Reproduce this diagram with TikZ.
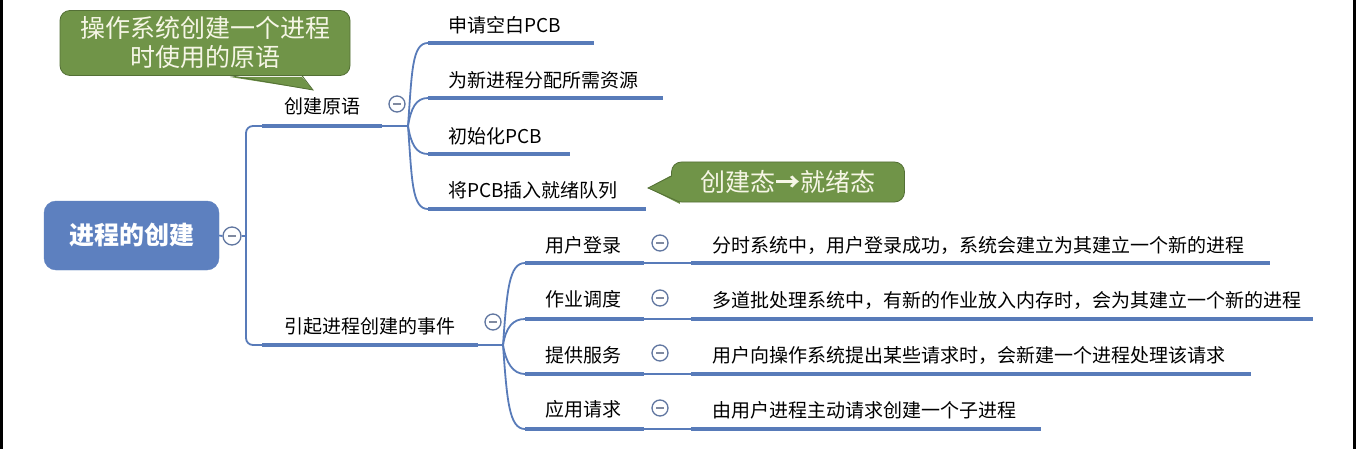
\documentclass[tikz,border=0pt]{standalone}
\usepackage{fontspec}
\setmainfont{Noto Sans CJK SC}
\definecolor{mapblue}{RGB}{88,123,185}
\definecolor{rootblue}{RGB}{93,128,191}
\definecolor{foldblue}{RGB}{96,118,160}
\definecolor{foldminus}{RGB}{128,138,160}
\definecolor{notegreen}{RGB}{112,148,72}
\definecolor{notedraw}{RGB}{84,112,54}
\definecolor{notetext}{RGB}{246,246,230}
\tikzset{
  rootbox/.style={fill=rootblue, draw=rootblue, rounded corners=12pt, minimum width=175pt, minimum height=69pt, text=white, font=\fontsize{25}{25}\selectfont\bfseries},
  topic/.style={anchor=west, inner sep=0pt, font=\fontsize{19}{22}\selectfont},
  bar/.style={line width=4pt, draw=mapblue, line cap=butt},
  link/.style={line width=1.8pt, draw=mapblue},
  fold/.style={circle, draw=foldblue, line width=1.3pt, fill=white, minimum size=16pt, inner sep=0pt,
    path picture={\draw[foldminus, line width=1.4pt] ([xshift=-4pt]path picture bounding box.center) -- ([xshift=4pt]path picture bounding box.center);}},
  note/.style={fill=notegreen, draw=notedraw, line width=0.8pt, rounded corners=10pt, text=notetext, align=center, font=\fontsize{25}{29}\selectfont},
}

\begin{document}
\begin{tikzpicture}[x=1pt, y=-1pt]
\useasboundingbox (0,0) rectangle (1356,449);
\fill[white] (0,0) rectangle (1356,449);
\fill[black] (0,0) rectangle (2.5,449);
\fill[black] (1353,0) rectangle (1356,449);

% root
\node[rootbox] (root) at (131.5,235.5) {进程的创建};
\node[fold, minimum size=18pt] (rootfold) at (232,236) {};
\coordinate (rootfork) at (246,236);
\draw[link] (root.east) -- (rootfold.west);
\draw[link] (rootfold.east) -- (rootfork);

% creation primitive
\coordinate (prim-l) at (262,126);
\coordinate (prim-r) at (382,126);
\coordinate (primfork) at (408,126);
\node[topic] (prim) at (284,106) {创建原语};
\node[fold] (primfold) at (397,104) {};
\draw[link, rounded corners=7pt] (rootfork) |- (prim-l);
\draw[bar] (prim-l) -- (prim-r);
\draw[link] (prim-r) -- (primfork);

\coordinate (step1-l) at (428,43);
\coordinate (step1-r) at (594,43);
\coordinate (step2-l) at (428,98);
\coordinate (step2-r) at (663,98);
\coordinate (step3-l) at (428,154);
\coordinate (step3-r) at (570,154);
\coordinate (step4-l) at (428,209);
\coordinate (step4-r) at (646,209);
\node[topic] (step1) at (448,25) {申请空白PCB};
\node[topic] (step2) at (448,80) {为新进程分配所需资源};
\node[topic] (step3) at (448,136) {初始化PCB};
\node[topic] (step4) at (448,190) {将PCB插入就绪队列};
\draw[link] (primfork) .. controls +(4,-55) and +(-16,0) .. (step1-l);
\draw[link] (primfork) .. controls +(3,-18) and +(-12,0) .. (step2-l);
\draw[link] (primfork) .. controls +(3,18) and +(-12,0) .. (step3-l);
\draw[link] (primfork) .. controls +(4,55) and +(-16,0) .. (step4-l);
\draw[bar] (step1-l) -- (step1-r);
\draw[bar] (step2-l) -- (step2-r);
\draw[bar] (step3-l) -- (step3-r);
\draw[bar] (step4-l) -- (step4-r);

% events
\coordinate (evt-l) at (262,345);
\coordinate (evt-r) at (478,345);
\coordinate (evtfork) at (503,345);
\node[topic] (evt) at (284,326) {引起进程创建的事件};
\node[fold] (evtfold) at (493,322) {};
\draw[link, rounded corners=7pt] (rootfork) |- (evt-l);
\draw[bar] (evt-l) -- (evt-r);
\draw[link] (evt-r) -- (evtfork);

\coordinate (login-l) at (525,263);
\coordinate (login-r) at (644,263);
\coordinate (job-l) at (525,319);
\coordinate (job-r) at (644,319);
\coordinate (serv-l) at (525,374);
\coordinate (serv-r) at (644,374);
\coordinate (req-l) at (525,429);
\coordinate (req-r) at (644,429);
\node[topic] (login) at (545,245) {用户登录};
\node[topic] (job) at (545,299) {作业调度};
\node[topic] (serv) at (545,355) {提供服务};
\node[topic] (req) at (545,409) {应用请求};
\draw[link] (evtfork) .. controls +(4,-55) and +(-16,0) .. (login-l);
\draw[link] (evtfork) .. controls +(3,-18) and +(-12,0) .. (job-l);
\draw[link] (evtfork) .. controls +(3,18) and +(-12,0) .. (serv-l);
\draw[link] (evtfork) .. controls +(4,55) and +(-16,0) .. (req-l);
\draw[bar] (login-l) -- (login-r);
\draw[bar] (job-l) -- (job-r);
\draw[bar] (serv-l) -- (serv-r);
\draw[bar] (req-l) -- (req-r);
\node[fold] (loginfold) at (660,243) {};
\node[fold] (jobfold) at (660,298) {};
\node[fold] (servfold) at (660,353) {};
\node[fold] (reqfold) at (660,408) {};

% details
\coordinate (logind-l) at (691,263);
\coordinate (logind-r) at (1270,263);
\coordinate (jobd-l) at (691,319);
\coordinate (jobd-r) at (1313,319);
\coordinate (servd-l) at (691,374);
\coordinate (servd-r) at (1251,374);
\coordinate (reqd-l) at (691,429);
\coordinate (reqd-r) at (1041,429);
\draw[link] (login-r) -- (logind-l);
\draw[link] (job-r) -- (jobd-l);
\draw[link] (serv-r) -- (servd-l);
\draw[link] (req-r) -- (reqd-l);
\draw[bar] (logind-l) -- (logind-r);
\draw[bar] (jobd-l) -- (jobd-r);
\draw[bar] (servd-l) -- (servd-r);
\draw[bar] (reqd-l) -- (reqd-r);
\node[topic] (logind) at (712,245) {分时系统中，用户登录成功，系统会建立为其建立一个新的进程};
\node[topic] (jobd) at (712,300) {多道批处理系统中，有新的作业放入内存时，会为其建立一个新的进程};
\node[topic] (servd) at (712,355) {用户向操作系统提出某些请求时，会新建一个进程处理该请求};
\node[topic] (reqd) at (712,410) {由用户进程主动请求创建一个子进程};

% callouts
\node[note, minimum width=290pt, minimum height=65pt] (noteprim) at (205,43) {操作系统创建一个进程\\时使用的原语};
\coordinate (tipprim) at (313,90);
\fill[notegreen] (230,77) -- (tipprim) -- (302,77) -- cycle;
\draw[notedraw, line width=0.8pt] (230,75.6) -- (tipprim) -- (302,75.6);

\node[note, minimum width=233pt, minimum height=40pt] (notestate) at (788,182) {创建态{\bfseries →}就绪态};
\coordinate (tipstate) at (648,188);
\fill[notegreen] (670,176) -- (tipstate) -- (680,204) -- (675,176) -- cycle;
\draw[notedraw, line width=0.8pt] (671.6,176) -- (tipstate) -- (680,202.2);
\end{tikzpicture}
\end{document}
